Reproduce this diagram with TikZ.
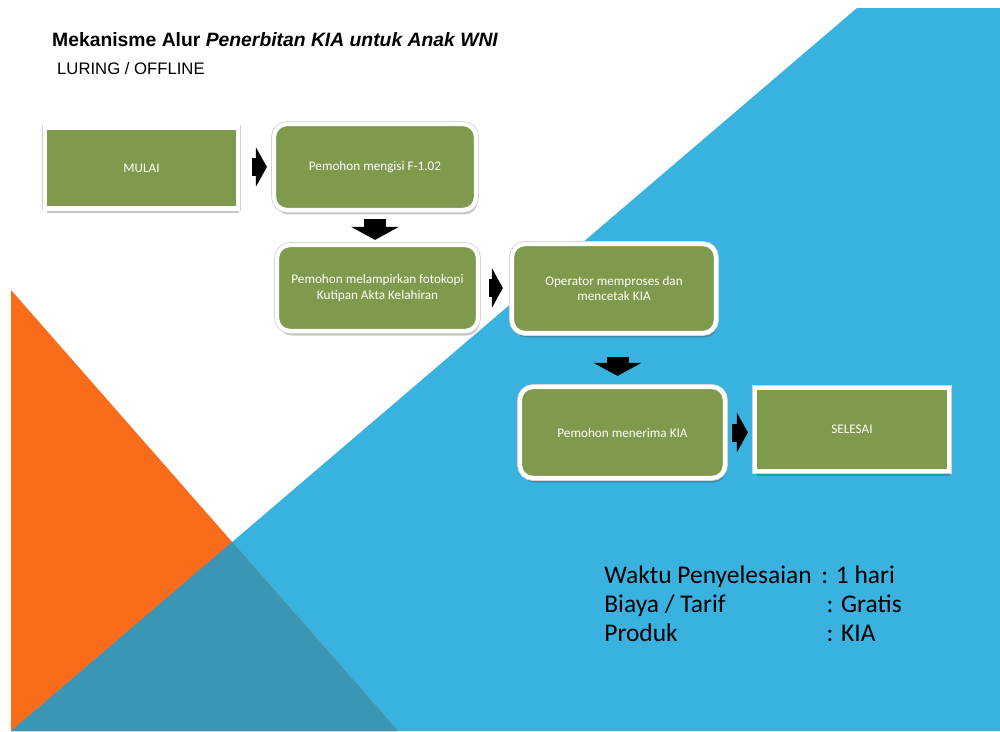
\documentclass[tikz,border=0pt]{standalone}
\usepackage{fontspec}
\setmainfont{Liberation Sans}
\newfontfamily\boxfont{Carlito}
\usetikzlibrary{arrows.meta, positioning, calc, shadows}
\definecolor{bgorange}{HTML}{F86C1C}
\definecolor{bgblue}{HTML}{3AB2E0}
\definecolor{bgdark}{HTML}{3A96B4}
\definecolor{stepgreen}{HTML}{7F9A4C}

\begin{document}
\begin{tikzpicture}[
    x=0.02cm, y=-0.02cm,
    stepbase/.style={draw=white, fill=stepgreen, text=white, line width=2.4pt,
                     font=\boxfont\fontsize{7.5}{9}\selectfont, align=center,
                     inner sep=3pt,
                     drop shadow={shadow xshift=0.03cm, shadow yshift=-0.09cm,
                                  opacity=0.28, fill=black!80},
                     preaction={draw=black!18, line width=3.3pt}},
    endbox/.style={stepbase, rectangle},
    stepbox/.style={stepbase, rectangle, rounded corners=0.26cm},
    rarr/.style={-{Triangle[length=0.22cm, width=0.78cm]}, line width=0.36cm, black},
    darr/.style={-{Triangle[length=0.26cm, width=0.94cm]}, line width=0.44cm, black},
    ttl/.style={font=\fontsize{11}{13}\selectfont\bfseries, anchor=base west},
    sub/.style={font=\fontsize{9.5}{11}\selectfont, anchor=base west},
    info/.style={font=\boxfont\fontsize{14.5}{16.5}\selectfont, align=left,
                 anchor=north west, inner sep=0pt},
]

\useasboundingbox (0,0) rectangle (1000,731);
\fill[white] (0,0) rectangle (1000,731);

% ============================================================ background
\fill[bgblue] (857,8) -- (1000,8) -- (1000,731) -- (11,731) -- cycle;
\fill[bgorange] (11,290) -- (398,731) -- (11,731) -- cycle;
\begin{scope}
  \clip (11,290) -- (398,731) -- (11,731) -- cycle;
  \fill[bgdark] (857,8) -- (1000,8) -- (1000,731) -- (11,731) -- cycle;
\end{scope}

% ================================================================= title
\node[ttl] (title) at (46,46)
     {Mekanisme Alur \textit{Penerbitan KIA untuk Anak WNI}};
\node[sub] (mode) at (51,74) {LURING / OFFLINE};

% ================================================================= steps
\node[endbox, minimum width=3.86cm, minimum height=1.62cm] (mulai) at (141.5,168)
     {MULAI};
\node[stepbox, minimum width=4.04cm, minimum height=1.72cm] (isi) at (375,167)
     {Pemohon mengisi F-1.02};
\node[stepbox, minimum width=4.02cm, minimum height=1.72cm] (lampir) at (377.5,288)
     {Pemohon melampirkan fotokopi\\ Kutipan Akta Kelahiran};
\node[stepbox, minimum width=4.08cm, minimum height=1.78cm] (proses) at (614,288.5)
     {Operator memproses dan\\ mencetak KIA};
\node[stepbox, minimum width=4.10cm, minimum height=1.82cm] (terima) at (622.5,432.5)
     {Pemohon menerima KIA};
\node[endbox, minimum width=3.88cm, minimum height=1.66cm] (selesai) at (852,429.5)
     {SELESAI};

% ================================================================ arrows
\draw[rarr] ($(mulai.east |- isi.west)+(0.24cm,0)$) -- ($(isi.west)+(-0.1cm,0)$);
\draw[darr] ($(isi.south)+(0,-0.14cm)$) -- ($(isi.south |- lampir.north)+(0,0.06cm)$);
\draw[rarr] ($(lampir.east)+(0.18cm,0)$) -- ($(lampir.east -| proses.west)+(-0.14cm,0)$);
\draw[darr] ($(proses.south)+(0.07cm,-0.44cm)$) -- ($(proses.south |- terima.north)+(0.07cm,0.18cm)$);
\draw[rarr] ($(terima.east)+(0.1cm,0)$) -- ($(terima.east -| selesai.west)+(-0.1cm,0)$);

% ================================================================== info
\node[info] (infolab) at (604,565)
     {Waktu Penyelesaian\\ Biaya / Tarif\\ Produk};
\node[info] (infoval) at (821,565)
     {: 1 hari\\ \hspace{3pt}: Gratis\\ \hspace{3pt}: KIA};

\end{tikzpicture}
\end{document}
